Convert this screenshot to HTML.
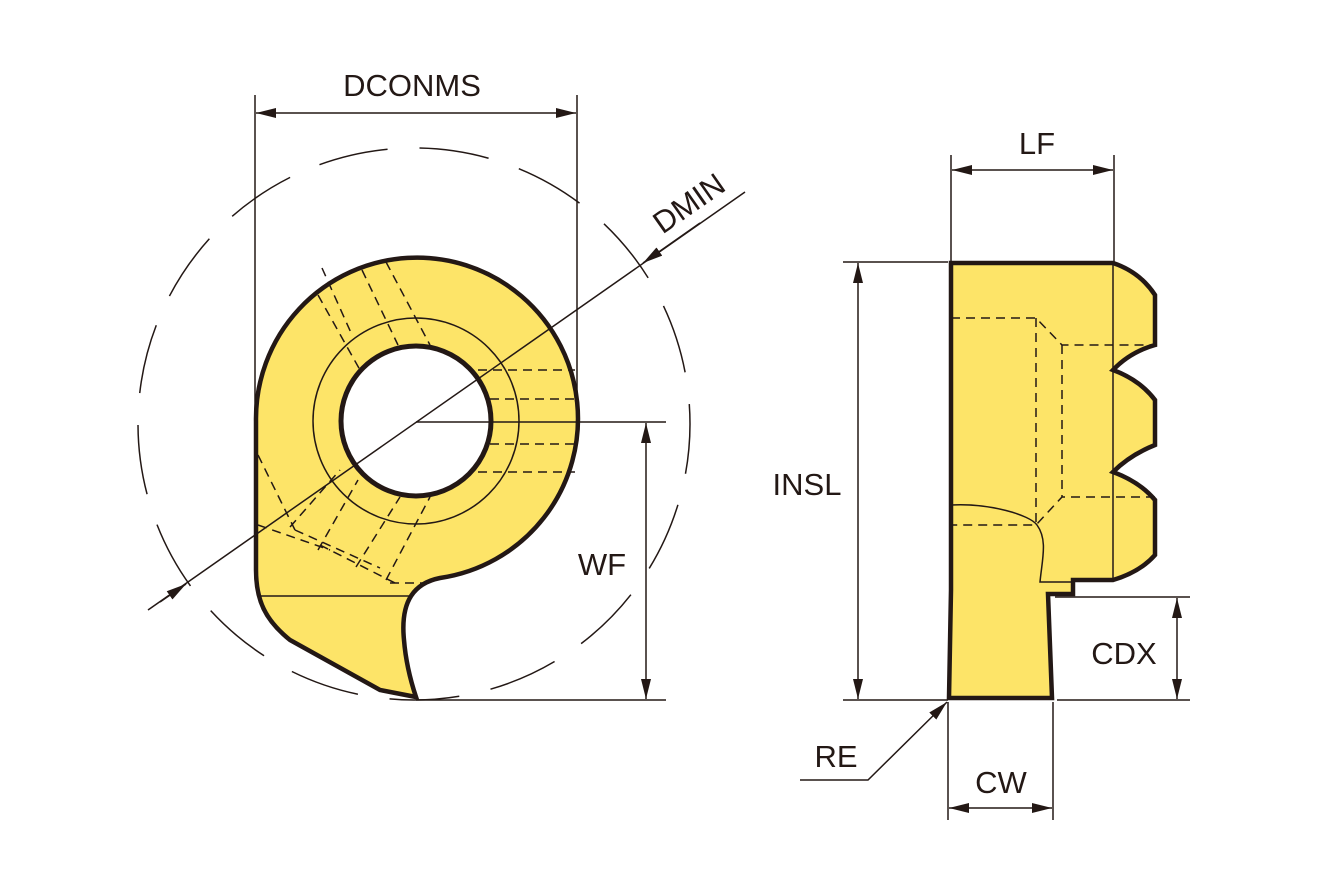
<!DOCTYPE html>
<html><head><meta charset="utf-8"><style>
html,body{margin:0;padding:0;background:#fff}
svg{display:block}
text{font-family:"Liberation Sans",sans-serif;fill:#231815;font-size:31px}
</style></head><body>
<svg width="1329" height="886" viewBox="0 0 1329 886" xmlns="http://www.w3.org/2000/svg">
<defs>
<marker id="a" viewBox="0 0 20 10" refX="20" refY="5" markerWidth="20" markerHeight="10" markerUnits="userSpaceOnUse" orient="auto-start-reverse">
<path d="M0,0 L20,5 L0,10 Z" fill="#231815"/></marker>
</defs>
<g stroke="#231815" fill="none" stroke-width="1.5">
<!-- dashed circle -->
<circle cx="414" cy="424" r="276" stroke-dasharray="70,32" stroke-dashoffset="20"/>
<!-- left insert -->
<path d="M256,421 A161,161 0 1 1 440,578 C415,583 400,600 404,640 C406,665 412,685 416,697 L380,690 L290,640 C265,620 256,600 256,570 Z" fill="#fde468" stroke-width="4.5"/>
<circle cx="416" cy="421" r="75" fill="#fff" stroke-width="5"/>
<circle cx="416" cy="421" r="103"/>
<line x1="258" y1="596" x2="412" y2="596"/>
<g stroke-dasharray="9,6">
<line x1="478" y1="370" x2="575" y2="370"/>
<line x1="490" y1="399" x2="578" y2="399"/>
<line x1="490" y1="444" x2="578" y2="444"/>
<line x1="478" y1="472" x2="575" y2="472"/>
<line x1="318" y1="295" x2="360" y2="370"/>
<line x1="322" y1="268" x2="352" y2="335"/>
<line x1="362" y1="270" x2="398" y2="345"/>
<line x1="386" y1="262" x2="430" y2="345"/>
<line x1="258" y1="455" x2="295" y2="530"/>
<line x1="258" y1="525" x2="330" y2="550"/>
<line x1="290" y1="527" x2="340" y2="470"/>
<line x1="318" y1="550" x2="358" y2="480"/>
<line x1="295" y1="530" x2="380" y2="568"/>
<line x1="320" y1="545" x2="395" y2="583"/>
<line x1="356" y1="567" x2="400" y2="497"/>
<line x1="386" y1="580" x2="430" y2="497"/>
<line x1="390" y1="583" x2="425" y2="583"/>
</g>
<!-- DCONMS -->
<line x1="255" y1="95" x2="255" y2="415"/>
<line x1="577" y1="95" x2="577" y2="400"/>
<line x1="256" y1="113" x2="576" y2="113" marker-start="url(#a)" marker-end="url(#a)"/>
<!-- DMIN -->
<line x1="148" y1="610" x2="745" y2="192"/>
<line x1="160" y1="602" x2="186" y2="584" marker-end="url(#a)"/>
<line x1="700" y1="223" x2="643" y2="263" marker-end="url(#a)"/>
<!-- WF -->
<line x1="416" y1="422" x2="666" y2="422"/>
<line x1="416" y1="700" x2="666" y2="700"/>
<line x1="646" y1="423" x2="646" y2="699" marker-start="url(#a)" marker-end="url(#a)"/>
<!-- right insert -->
<path d="M951,263 L1113,263 Q1140,272 1155,295 L1155,345 Q1130,352 1113,370 Q1140,380 1155,400 L1155,445 Q1130,455 1113,472 Q1140,482 1155,500 L1155,555 Q1140,572 1113,580 L1073,580 L1073,594 L1048,594 L1052,698 L949,698 L951,590 Z" fill="#fde468" stroke-width="4.5"/>
<line x1="1113" y1="263" x2="1113" y2="580"/>
<path d="M951,505 C990,503 1030,515 1037,525 C1048,540 1042,560 1040,582 L1073,582"/>
<g stroke-dasharray="9,6">
<path d="M951,318 L1036,318 L1062,345 L1155,345"/>
<path d="M1036,318 L1036,525"/>
<path d="M1062,345 L1062,497"/>
<path d="M1155,497 L1062,497 L1036,525 L951,525"/>
</g>
<!-- LF -->
<line x1="951" y1="155" x2="951" y2="262"/>
<line x1="1114" y1="155" x2="1114" y2="262"/>
<line x1="952" y1="170" x2="1113" y2="170" marker-start="url(#a)" marker-end="url(#a)"/>
<!-- INSL -->
<line x1="843" y1="262" x2="948" y2="262"/>
<line x1="843" y1="700" x2="948" y2="700"/>
<line x1="858" y1="263" x2="858" y2="699" marker-start="url(#a)" marker-end="url(#a)"/>
<!-- CDX -->
<line x1="1055" y1="597" x2="1190" y2="597"/>
<line x1="1057" y1="700" x2="1190" y2="700"/>
<line x1="1177" y1="598" x2="1177" y2="699" marker-start="url(#a)" marker-end="url(#a)"/>
<!-- CW -->
<line x1="948" y1="702" x2="948" y2="820"/>
<line x1="1053" y1="702" x2="1053" y2="820"/>
<line x1="949" y1="808" x2="1052" y2="808" marker-start="url(#a)" marker-end="url(#a)"/>
<!-- RE -->
<path d="M800,780 L868,780 L947,702" marker-end="url(#a)"/>
</g>
<text x="412" y="96" text-anchor="middle">DCONMS</text>
<text x="0" y="0" text-anchor="middle" transform="translate(695,212) rotate(-35)">DMIN</text>
<text x="602" y="575" text-anchor="middle">WF</text>
<text x="1037" y="154" text-anchor="middle">LF</text>
<text x="807" y="495" text-anchor="middle">INSL</text>
<text x="1124" y="664" text-anchor="middle">CDX</text>
<text x="1001" y="793" text-anchor="middle">CW</text>
<text x="836" y="767" text-anchor="middle">RE</text>
</svg>
</body></html>
